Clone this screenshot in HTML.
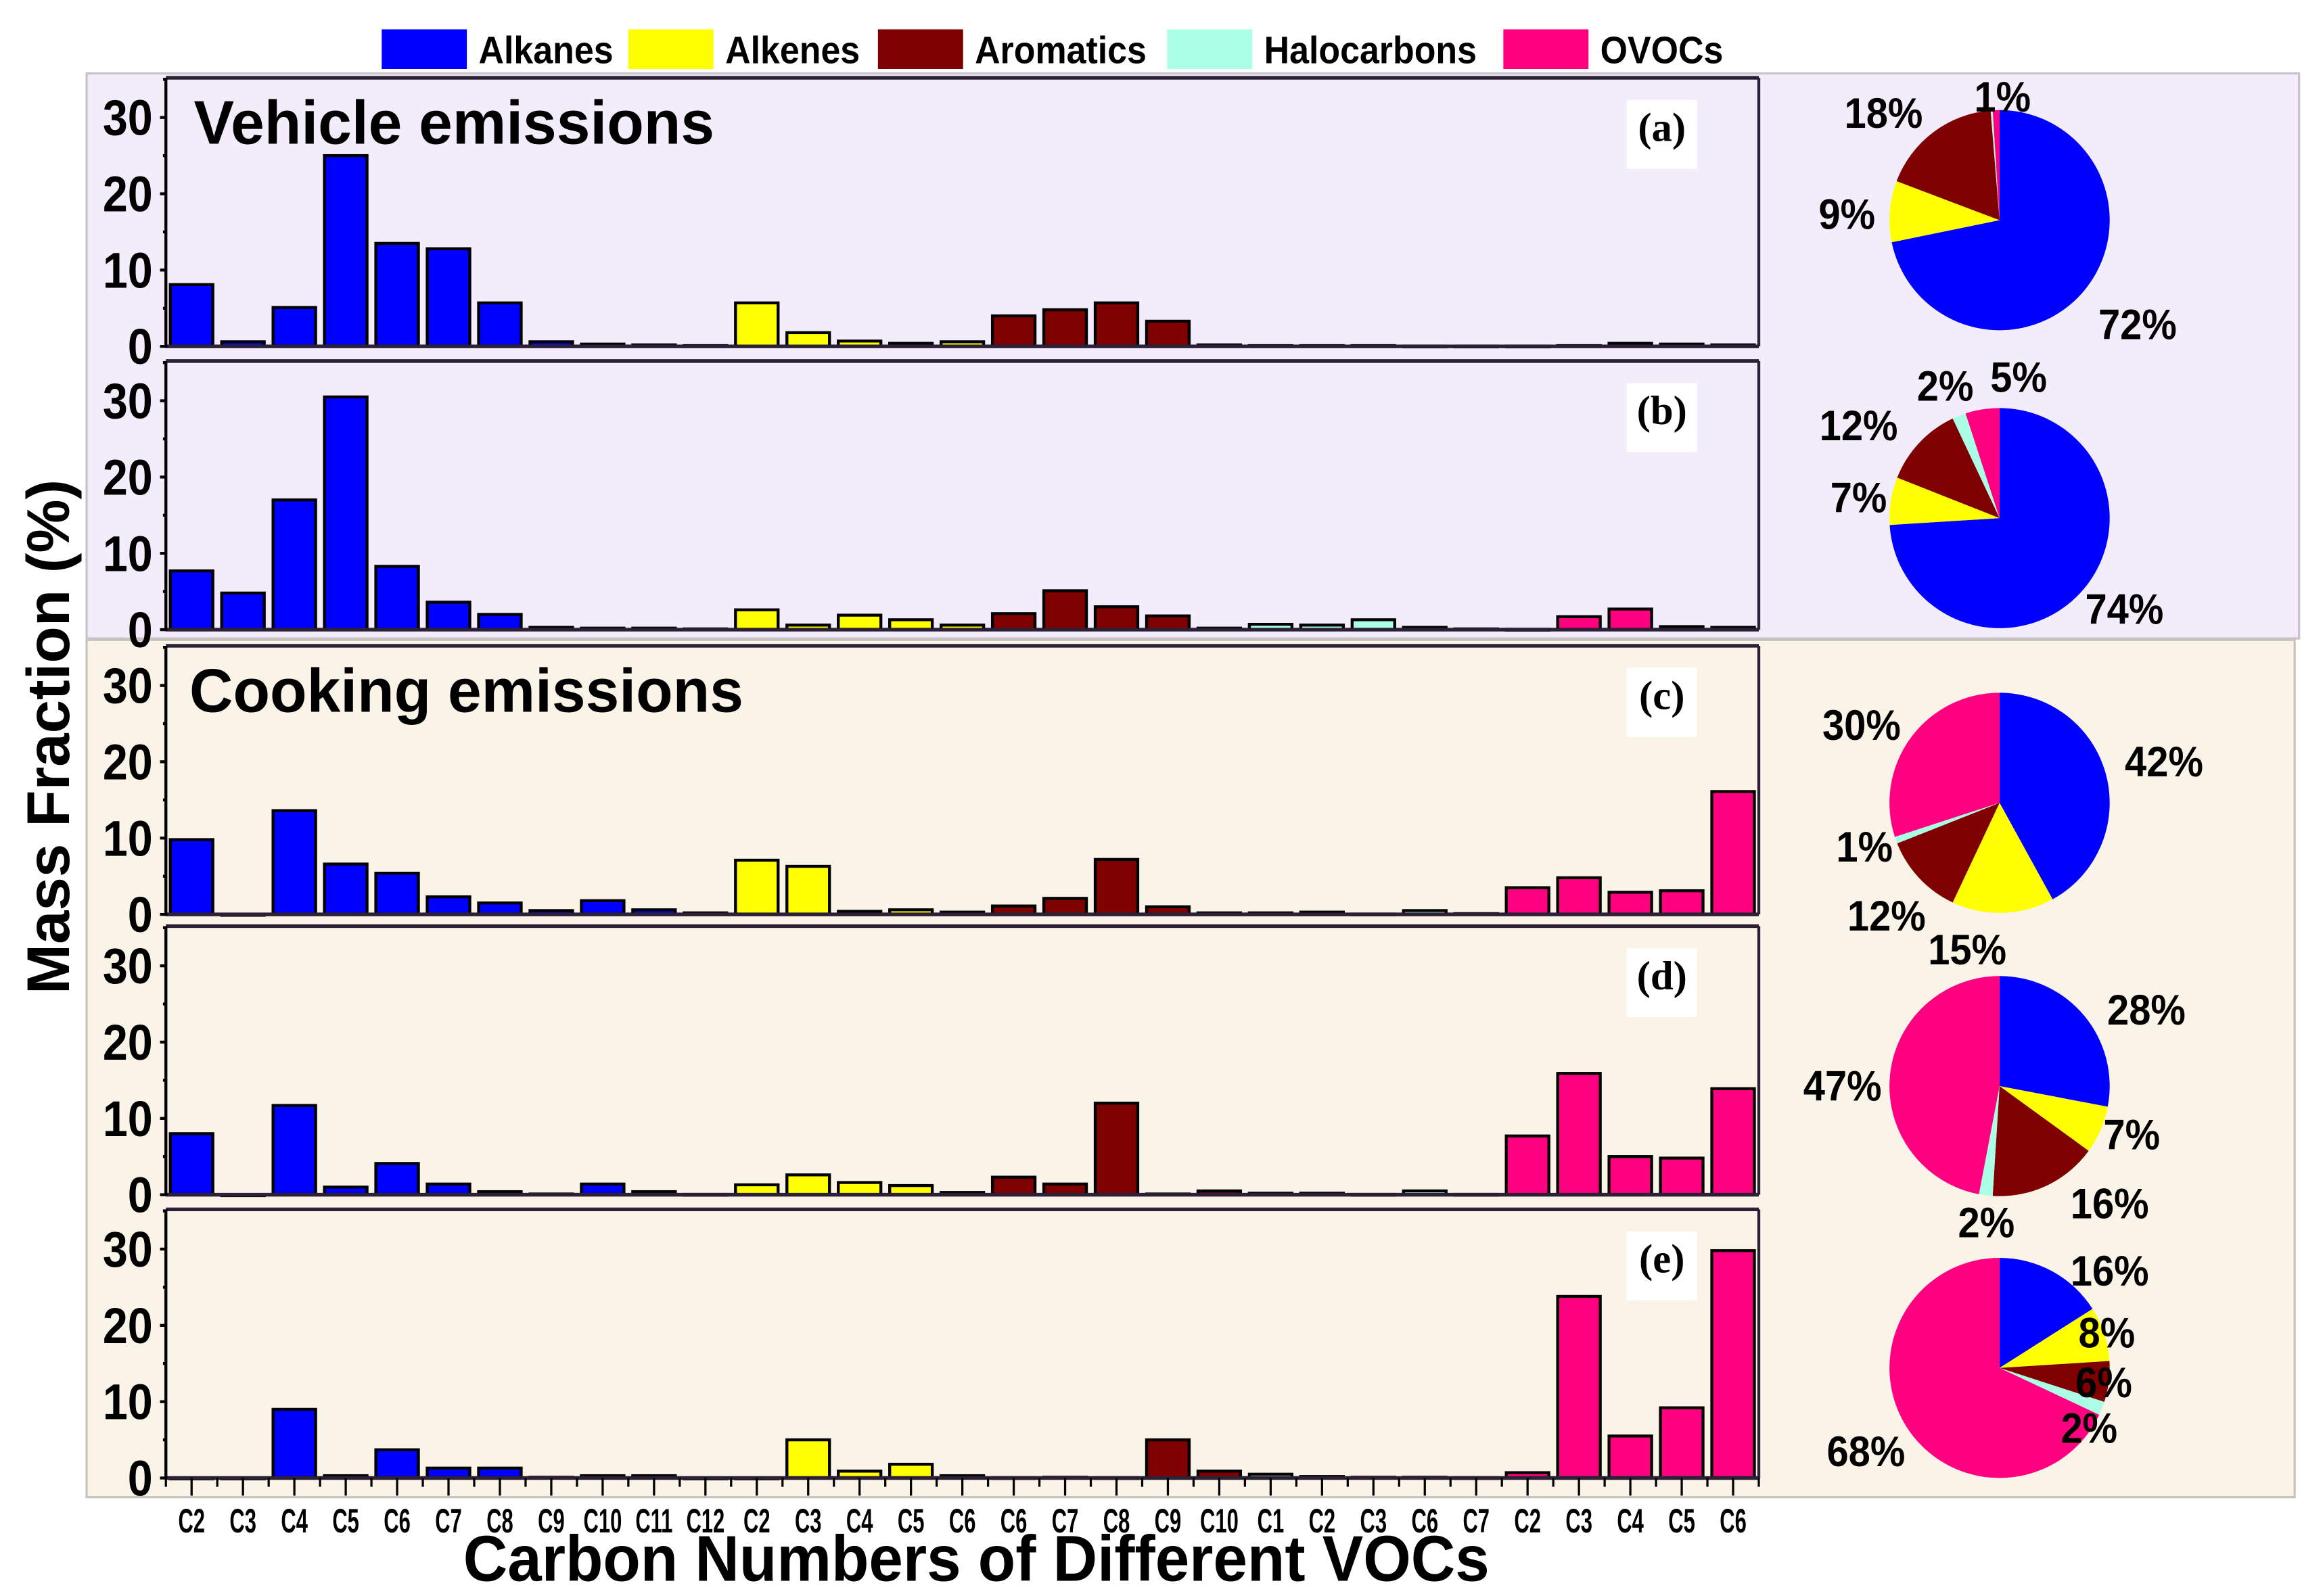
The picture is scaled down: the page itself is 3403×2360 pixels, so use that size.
<!DOCTYPE html>
<html><head><meta charset="utf-8"><style>
html,body{margin:0;padding:0;background:#fff}
svg{display:block}
text{font-family:"Liberation Sans",Arial,sans-serif;font-weight:bold}
</style></head><body>
<svg id="fig" width="3403" height="2360" viewBox="0 0 1568 1087.4" preserveAspectRatio="none" xmlns="http://www.w3.org/2000/svg">
<rect x="59" y="50" width="1507" height="385" fill="#f3ecfb" stroke="#c8c2cc" stroke-width="1.5"/>
<rect x="59" y="436" width="1504" height="584" fill="#faf3e8" stroke="#c8c4bc" stroke-width="1.5"/>
<g id="legend"></g>
<g id="panels"></g>
<g id="pies"></g>
<text font-size="42" transform="translate(132,98) scale(0.98,1)">Vehicle emissions</text>
<text font-size="42" transform="translate(129,485) scale(0.98,1)">Cooking emissions</text>
<text transform="translate(47,502) rotate(-90)" text-anchor="middle" font-size="41">Mass Fraction (%)</text>
<text text-anchor="middle" font-size="44" transform="translate(665,1077) scale(0.95,1)">Carbon Numbers of Different VOCs</text>
</svg>
<script>
const groups = ["Alkanes","Alkenes","Aromatics","Halocarbons","OVOCs"];
const colors = ["#0000ff","#ffff00","#7f0000","#aaffe4","#ff0080"];
const categories = ["C2","C3","C4","C5","C6","C7","C8","C9","C10","C11","C12","C2","C3","C4","C5","C6","C6","C7","C8","C9","C10","C1","C2","C3","C6","C7","C2","C3","C4","C5","C6"];
const categoryGroup = [0,0,0,0,0,0,0,0,0,0,0,1,1,1,1,1,2,2,2,2,2,3,3,3,3,3,4,4,4,4,4];
const yTicks = [0,10,20,30];
const panelLabels = ["(a)","(b)","(c)","(d)","(e)"];
const valuesA = [8.1,0.6,5.1,25,13.5,12.8,5.7,0.6,0.3,0.2,0.1, 5.7,1.8,0.7,0.4,0.6, 4.0,4.8,5.7,3.3,0.2, 0.1,0.1,0.1,0.05,0.05, 0.05,0.1,0.4,0.3,0.2];
const valuesB = [7.7,4.8,17,30.5,8.3,3.6,2.0,0.3,0.2,0.2,0.1, 2.6,0.6,1.9,1.3,0.6, 2.1,5.1,3.0,1.8,0.2, 0.7,0.6,1.3,0.3,0.1, 0.05,1.7,2.7,0.4,0.3];
const valuesC = [9.8,0,13.6,6.6,5.4,2.3,1.5,0.5,1.8,0.6,0.2, 7.1,6.3,0.4,0.6,0.3, 1.1,2.1,7.2,1.0,0.2, 0.2,0.3,0.05,0.5,0.1, 3.5,4.8,2.9,3.1,16.1];
const valuesD = [8.0,0,11.7,1.0,4.1,1.4,0.4,0.1,1.4,0.4,0.05, 1.3,2.6,1.6,1.2,0.3, 2.3,1.4,12,0.1,0.5, 0.2,0.2,0.05,0.5,0.05, 7.7,15.9,5.0,4.8,13.9];
const valuesE = [0,0,9.0,0.3,3.7,1.3,1.3,0.1,0.3,0.3,0, 0,5.0,0.9,1.8,0.3, 0.05,0.1,0.05,5.0,0.9, 0.5,0.2,0.1,0.1,0.05, 0.7,23.8,5.5,9.2,29.8];
const pieA = [72,9,18,0.3,1];
const pieB = [74,7,12,2,5];
const pieC = [42,15,12,1,30];
const pieD = [28,7,16,2,47];
const pieE = [16,8,6,2,68];
const pieLabelsA = ["72%","9%","18%","","1%"];
const pieLabelsB = ["74%","7%","12%","2%","5%"];
const pieLabelsC = ["42%","15%","12%","1%","30%"];
const pieLabelsD = ["28%","7%","16%","2%","47%"];
const pieLabelsE = ["16%","8%","6%","2%","68%"];

const NS="http://www.w3.org/2000/svg";
function mk(tag,attrs,parent){const e=document.createElementNS(NS,tag);for(const k in attrs)e.setAttribute(k,attrs[k]);parent.appendChild(e);return e;}

// legend
const lg=document.getElementById('legend');
const legX=[260,428,598,795,1024];
groups.forEach((g,i)=>{
  const r=mk('rect',{x:legX[i],y:20,width:58,height:27,fill:colors[i]},lg);
  
  
  const t=mk('text',{'font-size':26,transform:`translate(${legX[i]+66},43) scale(0.92,1)`},lg);
  t.textContent=g;
  
  
});

// panels
const panelsG=document.getElementById('panels');
const allValues=[valuesA,valuesB,valuesC,valuesD,valuesE];
const tops=[53,246,440,631,824];
const H=183, X0=113, X1=1198, YMAX=35.2;
const step=(X1-X0)/categories.length;
function xScale(i){return X0+step*(i+0.5);}
allValues.forEach((vals,p)=>{
  const top=tops[p], base=top+H;
  const yS=v=>base-v*(H/YMAX);
  const g=mk('g',{},panelsG);
  
  
  vals.forEach((v,i)=>{
    const y=yS(v);
    const b=mk('rect',{x:xScale(i)-14.5,y:y,width:29,height:Math.max(base-y,0.6),fill:colors[categoryGroup[i]],stroke:'#000','stroke-width':2},g);
    
    
  });
  mk('line',{x1:X0,y1:top,x2:X1,y2:top,stroke:'#2b2035','stroke-width':2.5},g);
  mk('line',{x1:X1,y1:top,x2:X1,y2:base,stroke:'#2b2035','stroke-width':2},g);
  mk('line',{x1:X0,y1:base,x2:X1,y2:base,stroke:'#2b2035','stroke-width':2.5},g);
  mk('line',{x1:X0,y1:top,x2:X0,y2:base+1,stroke:'#000','stroke-width':2},g);
  for(let v=0;v<=35;v+=5){
    const major=v%10===0;
    mk('line',{x1:X0-(major?4:2),y1:yS(v),x2:X0,y2:yS(v),stroke:'#000','stroke-width':2},g);
  }
  yTicks.forEach(v=>{
    const t=mk('text',{'text-anchor':'end','font-size':34,transform:`translate(104,${yS(v)+12}) scale(0.9,1)`},g);
    t.textContent=v;
    
    
  });
  const lx=1134, ly=top+43;
  mk('rect',{x:lx-26,y:top+15,width:48,height:47,fill:'#fff'},g);
  const pl=mk('text',{x:lx-2,y:ly,'text-anchor':'middle','font-size':28,style:'font-family:"Liberation Serif",serif'},g);
  pl.textContent=panelLabels[p];
  
  
  if(p===4){
    for(let i=0;i<=categories.length;i++){
      mk('line',{x1:X0+step*i,y1:base,x2:X0+step*i,y2:base+6,stroke:'#000','stroke-width':1.5},g);
    }
    categories.forEach((c,i)=>{
      mk('line',{x1:xScale(i),y1:base,x2:xScale(i),y2:base+12,stroke:'#000','stroke-width':1.5},g);
      const t=mk('text',{x:0,y:0,'text-anchor':'middle','font-size':23,'font-weight':'normal',fill:'#000',transform:`translate(${xScale(i)},1044) scale(0.62,1)`},g);
      t.textContent=c;
      
      
    });
  }
});

// pies
const piesG=document.getElementById('pies');
const pieData=[pieA,pieB,pieC,pieD,pieE];
const pieLabels=[pieLabelsA,pieLabelsB,pieLabelsC,pieLabelsD,pieLabelsE];
const pieCY=[150,353,547,740,932];
const labelPos=[
 [[1456,231],[1258,156],[1283,87],[0,0],[1364,76]],
 [[1447,425],[1266,349],[1266,300],[1325,273],[1375,267]],
 [[1474,529],[1340,657],[1285,634],[1270,587],[1268,504]],
 [[1462,698],[1452,783],[1437,830],[1353,843],[1255,750]],
 [[1437,876],[1435,918],[1433,952],[1423,983],[1271,999]]
];
const CX=1362, R=75;
pieData.forEach((d,p)=>{
  const g=mk('g',{},piesG);
  
  
  const tot=d.reduce((a,b)=>a+b,0);
  let a0=0;
  const cy=pieCY[p];
  d.forEach((v,i)=>{
    const a1=a0+v/tot*2*Math.PI;
    const x0=CX+R*Math.sin(a0), y0=cy-R*Math.cos(a0);
    const x1=CX+R*Math.sin(a1), y1=cy-R*Math.cos(a1);
    const large=(a1-a0)>Math.PI?1:0;
    const s=mk('path',{d:`M${CX},${cy} L${x0},${y0} A${R},${R} 0 ${large} 1 ${x1},${y1} Z`,fill:colors[i]},g);
    
    
    a0=a1;
  });
  pieLabels[p].forEach((l,i)=>{
    if(!l) return;
    const t=mk('text',{'text-anchor':'middle','font-size':29,transform:`translate(${labelPos[p][i][0]},${labelPos[p][i][1]}) scale(0.92,1)`},g);
    t.textContent=l;
    
    
  });
});
</script>
</body></html>
